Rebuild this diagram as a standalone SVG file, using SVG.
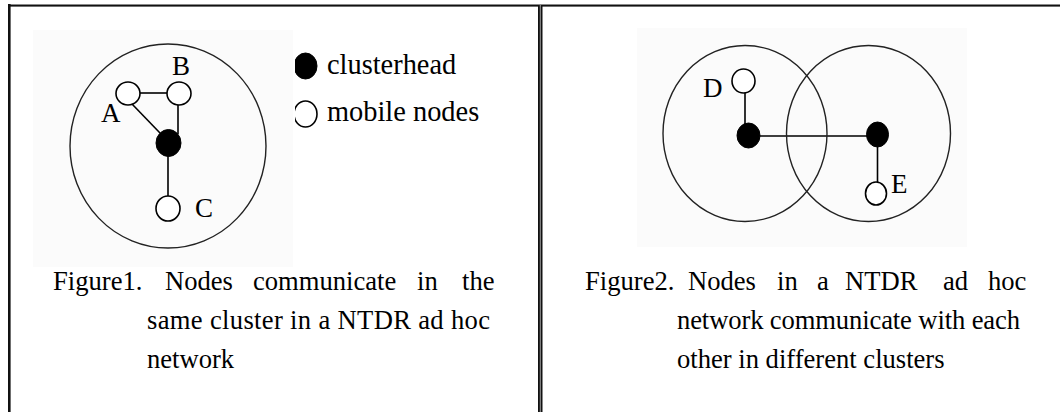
<svg xmlns="http://www.w3.org/2000/svg" width="1060" height="412" viewBox="0 0 1060 412">
  <style>
    text { font-family: "Liberation Serif", "Times New Roman", serif; font-size: 27px; fill: #000; }
    .cap { font-size: 26.6px; }
    .leg { font-size: 28.4px; }
    .range { fill: none; stroke: #222; stroke-width: 1.4; }
    .mobile { fill: #fff; stroke: #000; stroke-width: 1.6; }
    .head { fill: #000; stroke: #000; stroke-width: 1; }
    .link { stroke: #000; stroke-width: 1.6; fill: none; }
    .bg { fill: #fbfbfb; }
  </style>
  <defs>
    <clipPath id="legendClip"><rect x="295" y="40" width="40" height="100"/></clipPath>
  </defs>
  <rect width="1060" height="412" fill="#fff"/>

  <!-- frame -->
  <g id="frame">
    <rect x="8" y="4" width="1052" height="1" fill="#8a8a8a"/>
    <rect x="8" y="5" width="1052" height="1.6" fill="#111"/>
    <rect x="8" y="4" width="2.6" height="408" fill="#111"/>
    <rect x="538" y="5" width="4.5" height="407" fill="#111"/>
    <rect x="539.8" y="5" width="1" height="407" fill="#9a9a9a"/>
  </g>

  <!-- figure backgrounds -->
  <rect class="bg" x="33" y="30" width="260" height="237"/>
  <rect class="bg" x="637" y="28" width="330" height="219"/>

  <!-- Figure 1 -->
  <g id="cluster1-range">
    <ellipse class="range" cx="168" cy="146" rx="98" ry="102"/>
  </g>
  <g id="connectors">
    <line class="link" x1="140" y1="93" x2="167" y2="93"/>
    <line class="link" x1="132" y1="104" x2="160" y2="133"/>
    <line class="link" x1="178" y1="105" x2="178" y2="134"/>
    <line class="link" x1="168" y1="156" x2="168" y2="197"/>
    <line class="link" x1="760" y1="136" x2="867" y2="136"/>
    <line class="link" x1="745" y1="93" x2="745" y2="124"/>
    <line class="link" x1="877.5" y1="146" x2="877.5" y2="182"/>
  </g>
  <g id="node-A">
    <ellipse class="mobile" cx="128" cy="93.5" rx="12" ry="11.5"/>
    <text x="101" y="122">A</text>
  </g>
  <g id="node-B">
    <ellipse class="mobile" cx="179" cy="93.5" rx="12" ry="11.5"/>
    <text x="172" y="75">B</text>
  </g>
  <g id="clusterhead-1">
    <ellipse class="head" cx="168.5" cy="143" rx="12.5" ry="13.5"/>
  </g>
  <g id="node-C">
    <ellipse class="mobile" cx="168" cy="208.5" rx="12" ry="12.5"/>
    <text x="195" y="217">C</text>
  </g>

  <!-- legend -->
  <g id="legend-clusterhead">
    <ellipse class="head" cx="305.5" cy="66" rx="11.5" ry="13" clip-path="url(#legendClip)"/>
    <text class="leg" x="327" y="74">clusterhead</text>
  </g>
  <g id="legend-mobile">
    <ellipse class="mobile" cx="305.5" cy="114" rx="11.5" ry="13" clip-path="url(#legendClip)"/>
    <text class="leg" x="327" y="121">mobile nodes</text>
  </g>

  <!-- Figure 1 caption -->
  <g id="caption1">
    <text class="cap" x="53" y="290">Figure1.</text>
    <text class="cap" x="165" y="290">Nodes</text>
    <text class="cap" x="253" y="290">communicate</text>
    <text class="cap" x="417" y="290">in</text>
    <text class="cap" x="462" y="290">the</text>
    <text class="cap" x="147" y="329" textLength="343" lengthAdjust="spacing">same cluster in a NTDR ad hoc</text>
    <text class="cap" x="147" y="368">network</text>
  </g>

  <!-- Figure 2 -->
  <g id="cluster2-range-left">
    <ellipse class="range" cx="745" cy="133.5" rx="82" ry="88"/>
  </g>
  <g id="cluster2-range-right">
    <ellipse class="range" cx="868.5" cy="133.5" rx="82" ry="88"/>
  </g>
  <g id="clusterhead-2a">
    <ellipse class="head" cx="748.5" cy="135.5" rx="11.5" ry="12.5"/>
  </g>
  <g id="clusterhead-2b">
    <ellipse class="head" cx="877.5" cy="134.5" rx="11" ry="12.5"/>
  </g>
  <g id="node-D">
    <ellipse class="mobile" cx="743.5" cy="81" rx="11.5" ry="12"/>
    <text x="703" y="97">D</text>
  </g>
  <g id="node-E">
    <ellipse class="mobile" cx="876" cy="193.5" rx="10.5" ry="11.5"/>
    <text x="891" y="193">E</text>
  </g>

  <!-- Figure 2 caption -->
  <g id="caption2">
    <text class="cap" x="585" y="290">Figure2.</text>
    <text class="cap" x="688" y="290">Nodes</text>
    <text class="cap" x="777" y="290">in</text>
    <text class="cap" x="817" y="290">a</text>
    <text class="cap" x="845" y="290">NTDR</text>
    <text class="cap" x="943" y="290">ad</text>
    <text class="cap" x="988" y="290">hoc</text>
    <text class="cap" x="677" y="329" textLength="343" lengthAdjust="spacing">network communicate with each</text>
    <text class="cap" x="677" y="368">other in different clusters</text>
  </g>
</svg>
